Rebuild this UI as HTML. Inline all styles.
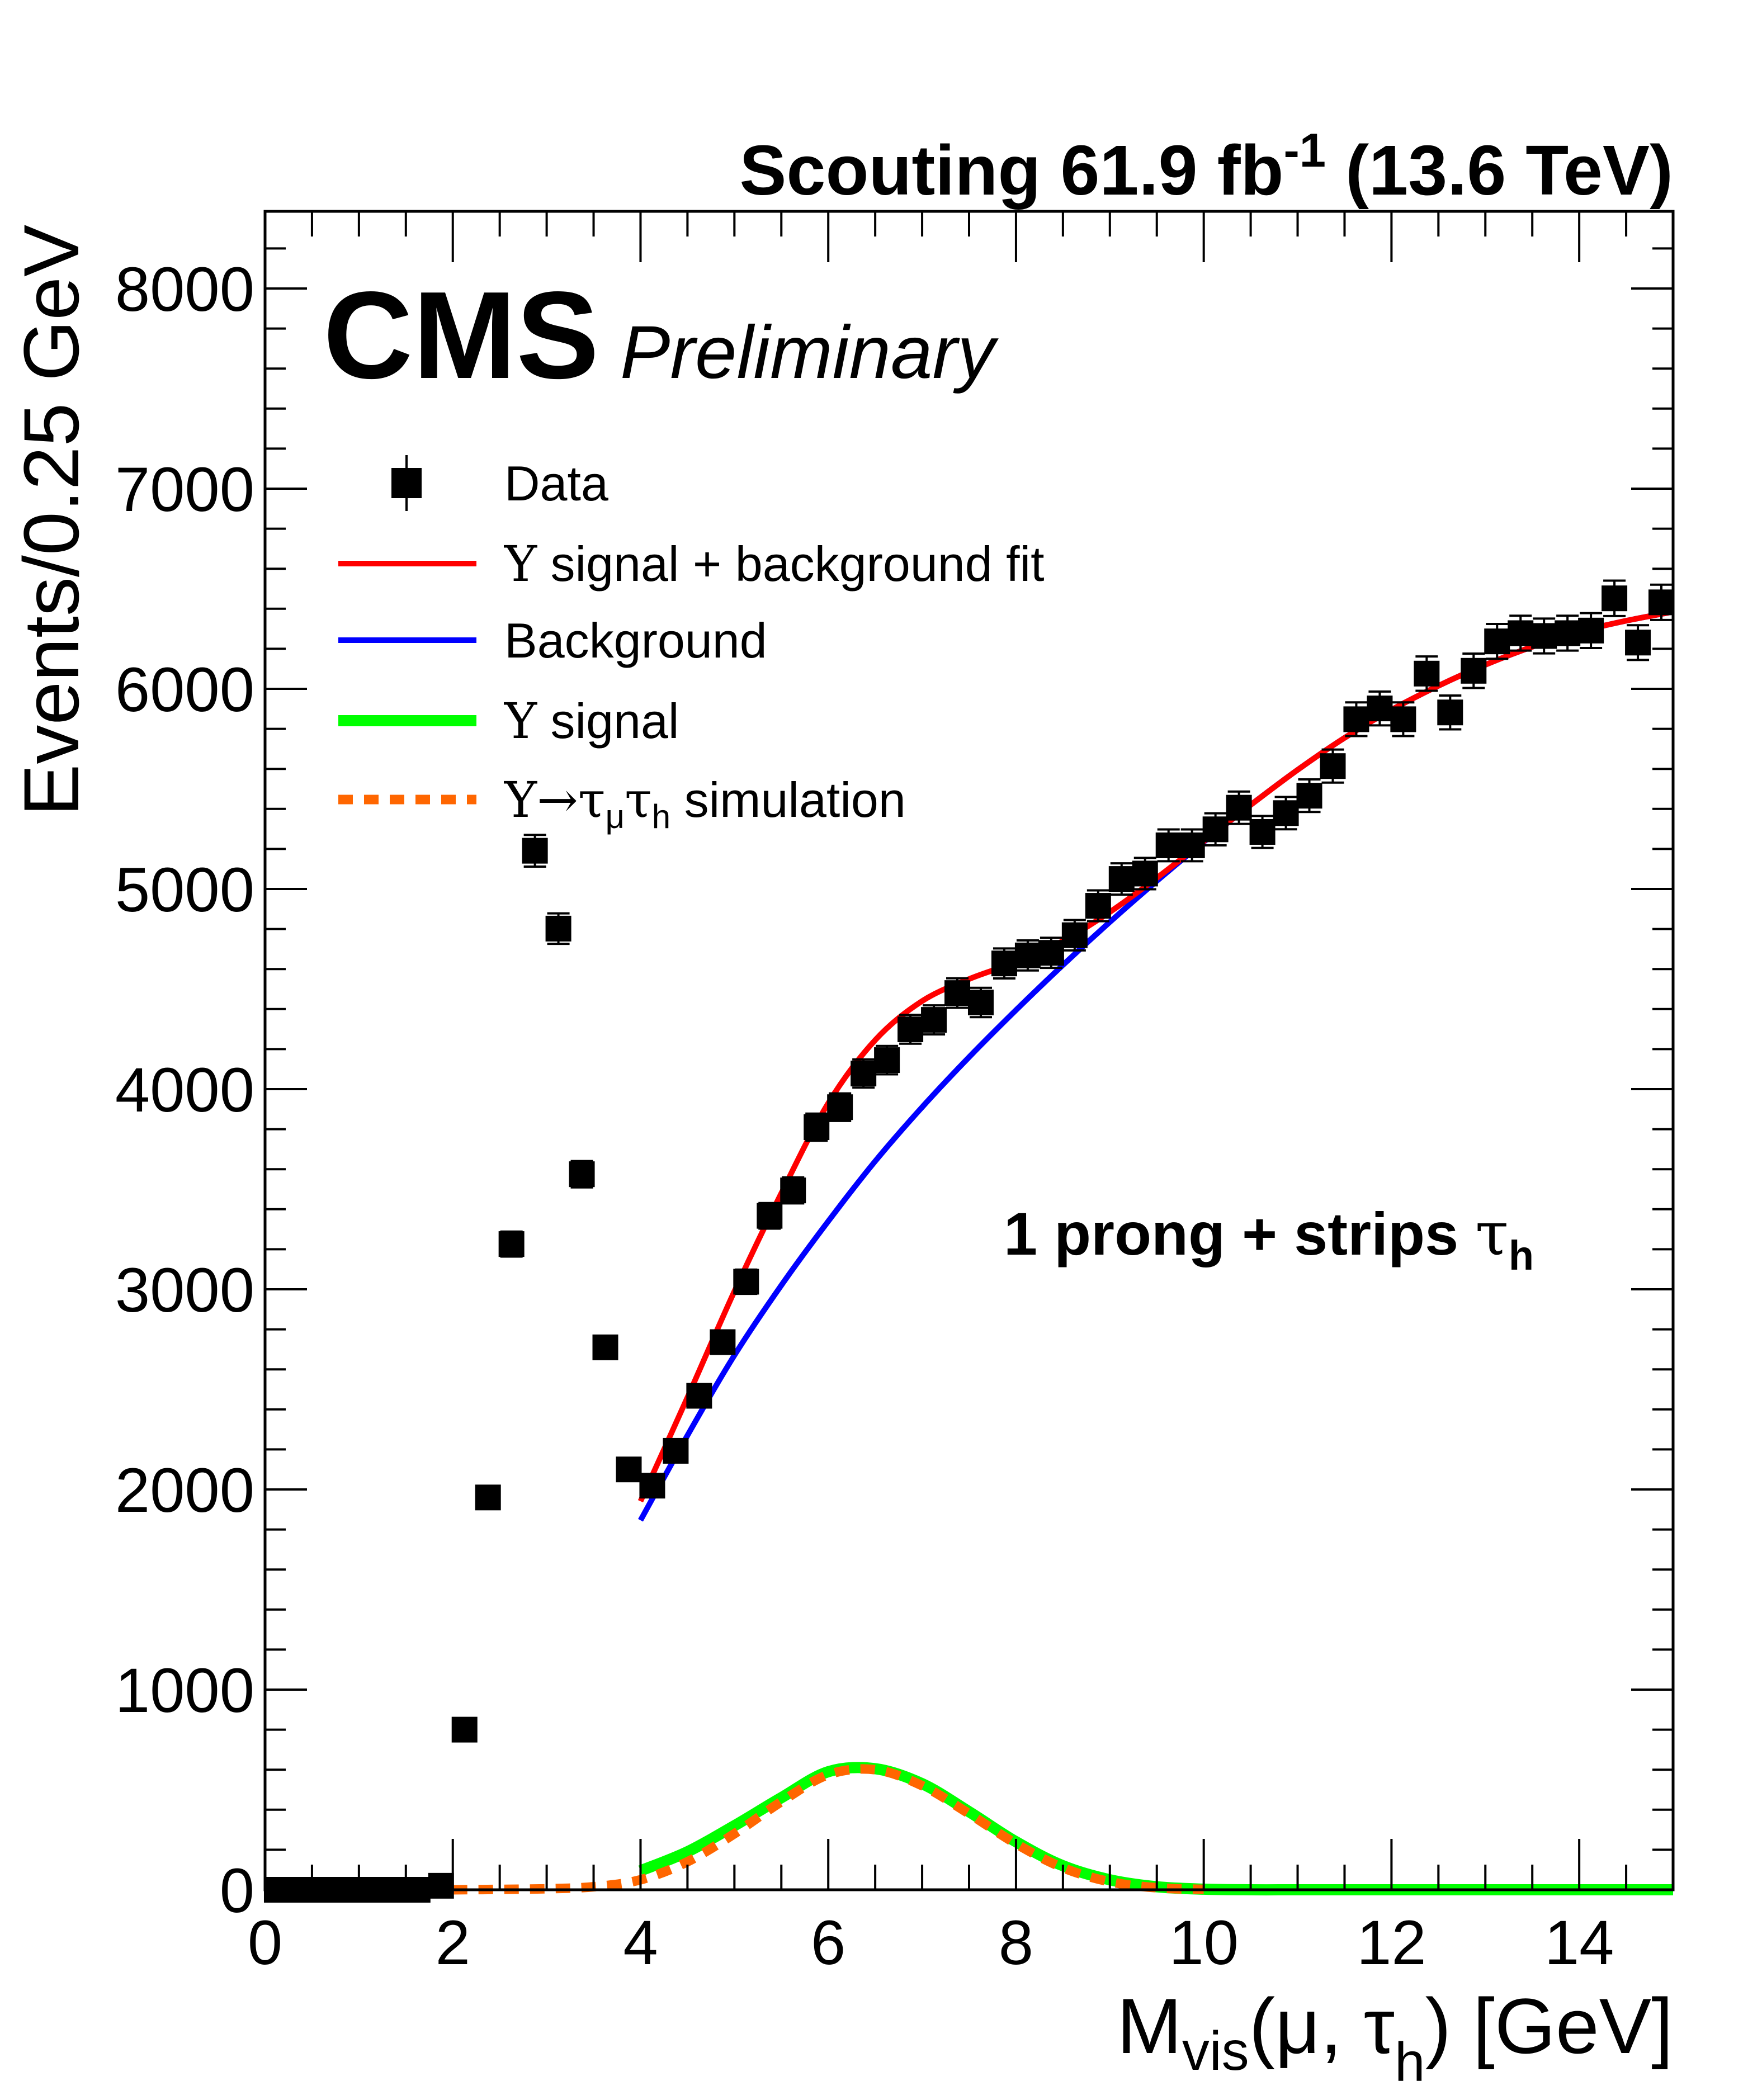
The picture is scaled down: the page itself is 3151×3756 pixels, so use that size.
<!DOCTYPE html>
<html><head><meta charset="utf-8"><style>
html,body{margin:0;padding:0;background:#fff;}
svg{display:block;font-family:"Liberation Sans",sans-serif;}
</style></head><body>
<svg id="chart" width="3151" height="3756" viewBox="0 0 3151 3756" xmlns="http://www.w3.org/2000/svg">
<g id="plot"></g>
<g id="axes"></g>
<text x="2992" y="348" text-anchor="end" font-size="126" font-weight="bold">Scouting 61.9 fb<tspan font-size="85" dy="-50">-1</tspan><tspan dy="50"> (13.6 TeV)</tspan></text>
<text x="578" y="676" font-size="222" font-weight="bold">CMS</text>
<text x="1109" y="676" font-size="134" font-style="italic">Preliminary</text>
<text x="1795" y="2244" font-size="108" font-weight="bold">1 prong + strips <tspan font-family="'DejaVu Serif',serif" font-weight="normal">τ</tspan><tspan font-size="74" dy="27">h</tspan></text>
<text transform="translate(140,1460) rotate(-90)" font-size="140">Events/0.25 GeV</text>
<text x="2992" y="3672" text-anchor="end" font-size="140">M<tspan font-size="98" dy="30">vis</tspan><tspan dy="-30">(μ, τ</tspan><tspan font-size="98" dy="50">h</tspan><tspan dy="-50">) [GeV]</tspan></text>
<g id="legend"></g>
</svg>
<script>
const binCenters=[0.125,0.375,0.625,0.875,1.125,1.375,1.625,1.875,2.125,2.375,2.625,2.875,3.125,3.375,3.625,3.875,4.125,4.375,4.625,4.875,5.125,5.375,5.625,5.875,6.125,6.375,6.625,6.875,7.125,7.375,7.625,7.875,8.125,8.375,8.625,8.875,9.125,9.375,9.625,9.875,10.125,10.375,10.625,10.875,11.125,11.375,11.625,11.875,12.125,12.375,12.625,12.875,13.125,13.375,13.625,13.875,14.125,14.375,14.625,14.875];
const dataCounts=[0,0,0,0,0,0,0,20,800,1960,3226,5191,4802,3575,2710,2100,2019,2193,2468,2736,3038,3367,3494,3810,3910,4078,4145,4299,4346,4480,4433,4628,4668,4681,4769,4916,5050,5077,5218,5218,5298,5406,5285,5379,5466,5614,5848,5902,5848,6076,5882,6090,6237,6278,6264,6278,6291,6452,6231,6432];
const fitX=[4,4.5,5,5.5,6,6.5,7,7.5,8,8.5,9,9.5,10,10.5,11,11.5,12,12.5,13,13.5,14,14.5,15];
const bkgValues=[1846,2270,2670,3020,3340,3640,3910,4160,4395,4620,4835,5040,5235,5420,5595,5755,5895,6015,6120,6210,6285,6340,6385];
const sigValues=[95,190,320,460,590,605,530,390,240,120,50,15,3,0,0,0,0,0,0,0,0,0,0];
const simX=[2,2.5,3,3.5,4,4.5,5,5.5,6,6.5,7,7.5,8,8.5,9,9.5,10];
const simValues=[0,2,5,15,50,140,280,440,575,600,520,380,230,110,40,10,2];
const xTicks=[0,2,4,6,8,10,12,14];
const yTicks=[0,1000,2000,3000,4000,5000,6000,7000,8000];

const NS='http://www.w3.org/2000/svg';
const L=474,R=2992,T=378,B=3380,XMAX=15,YMAX=(B-T)/0.358;
const sx=v=>L+(R-L)*v/XMAX;
const sy=v=>B-(B-T)*v/YMAX;
function mk(tag,attrs,parent){const e=document.createElementNS(NS,tag);for(const k in attrs)e.setAttribute(k,attrs[k]);parent.appendChild(e);return e;}
const plot=document.getElementById('plot'),axes=document.getElementById('axes'),leg=document.getElementById('legend');

function smooth(xs,ys){
  let d='M'+sx(xs[0])+','+sy(ys[0]);
  const P=xs.map((x,i)=>[sx(x),sy(ys[i])]);
  for(let i=0;i<P.length-1;i++){const p0=P[Math.max(0,i-1)],p1=P[i],p2=P[i+1],p3=P[Math.min(P.length-1,i+2)];
    d+=` C${p1[0]+(p2[0]-p0[0])/6},${p1[1]+(p2[1]-p0[1])/6} ${p2[0]-(p3[0]-p1[0])/6},${p2[1]-(p3[1]-p1[1])/6} ${p2[0]},${p2[1]}`;}
  return d;}

const sig=mk('path',{d:smooth(fitX,sigValues),fill:'none',stroke:'#00ff00','stroke-width':20},plot);


const sim=mk('path',{d:smooth(simX,simValues),fill:'none',stroke:'#ff6600','stroke-width':17,'stroke-dasharray':'26,20'},plot);


const bk=mk('path',{d:smooth(fitX,bkgValues),fill:'none',stroke:'#0000ff','stroke-width':10},plot);


const fitVals=bkgValues.map((b,i)=>b+sigValues[i]);
const ft=mk('path',{d:smooth(fitX,fitVals),fill:'none',stroke:'#ff0000','stroke-width':10},plot);


binCenters.forEach((x,i)=>{
  const v=dataCounts[i],cx=sx(x),cy=sy(v),e=Math.sqrt(v)*1.1;
  const g=mk('g',{},plot);
  
  
  if(v>100){mk('line',{x1:cx,x2:cx,y1:sy(v+e),y2:sy(v-e),stroke:'#000','stroke-width':4},g);
    mk('line',{x1:cx-20,x2:cx+20,y1:sy(v+e),y2:sy(v+e),stroke:'#000','stroke-width':4},g);
    mk('line',{x1:cx-20,x2:cx+20,y1:sy(v-e),y2:sy(v-e),stroke:'#000','stroke-width':4},g);}
  mk('rect',{x:cx-23,y:cy-23,width:46,height:46,fill:'#000'},g);
});
const fr=mk('rect',{x:L,y:T,width:R-L,height:B-T,fill:'none',stroke:'#000','stroke-width':5},axes);


for(let v=0;v<=XMAX+1e-6;v+=0.5){const maj=Math.abs(v%2)<1e-6,len=maj?91:45,x=sx(v);
  mk('line',{x1:x,x2:x,y1:B,y2:B-len,stroke:'#000','stroke-width':4},axes);
  mk('line',{x1:x,x2:x,y1:T,y2:T+len,stroke:'#000','stroke-width':4},axes);}
for(let v=0;v<=YMAX;v+=200){const maj=v%1000===0,len=maj?75:37,y=sy(v);
  mk('line',{x1:L,x2:L+len,y1:y,y2:y,stroke:'#000','stroke-width':4},axes);
  mk('line',{x1:R,x2:R-len,y1:y,y2:y,stroke:'#000','stroke-width':4},axes);}
xTicks.forEach(v=>{const t=mk('text',{x:sx(v),y:3513,'text-anchor':'middle','font-size':112},axes);t.textContent=v;
  
  });
yTicks.forEach(v=>{const t=mk('text',{x:455,y:sy(v)+40,'text-anchor':'end','font-size':112},axes);t.textContent=v;
  
  });
const rows=[864,1008,1145,1289,1430];
let g=mk('g',{},leg);
mk('line',{x1:727,x2:727,y1:rows[0]-50,y2:rows[0]+50,stroke:'#000','stroke-width':4},g);
mk('rect',{x:700,y:rows[0]-27,width:54,height:54,fill:'#000'},g);
let t=mk('text',{x:902,y:rows[0]+31,'font-size':88},g);t.textContent='Data';
const legLines=[['legend-fit','#ff0000',10,'','<tspan font-family="DejaVu Serif,serif">Υ</tspan> signal + background fit'],
 ['legend-background','#0000ff',10,'','Background'],
 ['legend-signal','#00ff00',20,'','<tspan font-family="DejaVu Serif,serif">Υ</tspan> signal'],
 ['legend-simulation','#ff6600',17,'26,20','<tspan font-family="DejaVu Serif,serif">Υ→τ</tspan><tspan font-size="60" dy="20">μ</tspan><tspan dy="-20" font-family="DejaVu Serif,serif">τ</tspan><tspan font-size="60" dy="20">h</tspan><tspan dy="-20"> simulation</tspan>']];
legLines.forEach((r,i)=>{const y=rows[i+1];const gg=mk('g',{},leg);
  
  
  const a={x1:605,x2:852,y1:y,y2:y,stroke:r[1],'stroke-width':r[2]};if(r[3])a['stroke-dasharray']=r[3];
  mk('line',a,gg);const tt=mk('text',{x:902,y:y+31,'font-size':88},gg);tt.innerHTML=r[4];});
</script>
</body></html>
